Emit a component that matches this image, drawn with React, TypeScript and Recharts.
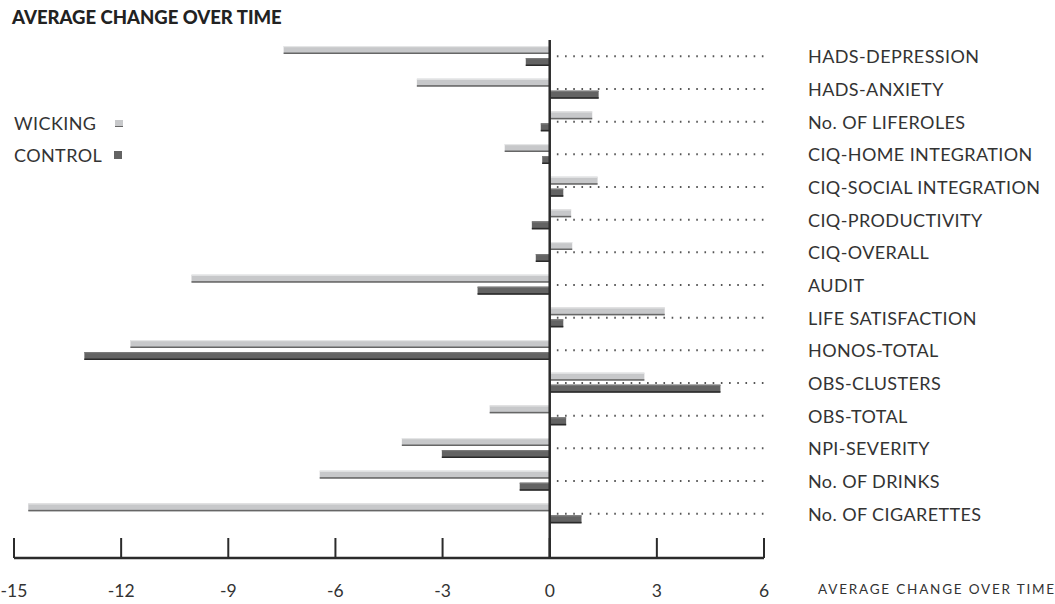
import React from "react";
import {
  BarChart,
  Bar,
  XAxis,
  YAxis,
  ReferenceLine,
  Legend,
} from "recharts";

const categories = [
  "HADS-DEPRESSION",
  "HADS-ANXIETY",
  "No. OF LIFEROLES",
  "CIQ-HOME INTEGRATION",
  "CIQ-SOCIAL INTEGRATION",
  "CIQ-PRODUCTIVITY",
  "CIQ-OVERALL",
  "AUDIT",
  "LIFE SATISFACTION",
  "HONOS-TOTAL",
  "OBS-CLUSTERS",
  "OBS-TOTAL",
  "NPI-SEVERITY",
  "No. OF DRINKS",
  "No. OF CIGARETTES",
];

const wicking = [-7.45, -3.72, 1.19, -1.26, 1.34, 0.6, 0.63, -10.03, 3.22, -11.74, 2.65, -1.68, -4.14, -6.44, -14.6];
const control = [-0.67, 1.37, -0.25, -0.21, 0.38, -0.5, -0.39, -2.02, 0.38, -13.03, 4.78, 0.46, -3.02, -0.84, 0.89];

const xTicks = [-15, -12, -9, -6, -3, 0, 3, 6];

const data = categories.map((name, i) => ({
  name,
  wicking: wicking[i],
  control: control[i],
}));

const FONT = "Lato, 'Open Sans', sans-serif";
const INK = "#2b2b2b";

// bar with a light top edge and a darker bottom edge, like the print original
const makeShape = (hi: string, edge: string) => (props: any) => {
  const { x = 0, y = 0, width = 0, height = 0, fill } = props;
  const x0 = Math.min(x, x + width);
  const w = Math.abs(width);
  if (!w) return <g />;
  return (
    <g>
      <rect x={x0} y={y} width={w} height={height} fill={fill} />
      <rect x={x0} y={y} width={w} height={1.2} fill={hi} />
      <rect x={x0} y={y + height - 1.5} width={w} height={1.5} fill={edge} />
    </g>
  );
};

const XTick = (props: any) => {
  const { x, y, payload } = props;
  return (
    <g>
      <line x1={x} x2={x} y1={y - 20} y2={y} stroke={INK} strokeWidth={2} />
      <text x={x} y={y + 39} textAnchor="middle" fill="#333" fontSize={17.5} fontFamily={FONT}>
        {payload.value}
      </text>
    </g>
  );
};

const YTick = (props: any) => {
  const { x, y, payload } = props;
  return (
    <text
      x={x + 44}
      y={y}
      dominantBaseline="central"
      fill="#333"
      fontSize={18}
      letterSpacing={0.4}
      fontFamily={FONT}
    >
      {payload.value}
    </text>
  );
};

const LegendBox = () => (
  <div style={{ fontFamily: FONT, fontSize: 18, letterSpacing: 0.4, color: "#333", lineHeight: "32px" }}>
    <div style={{ display: "flex", alignItems: "center" }}>
      <span style={{ width: 101 }}>WICKING</span>
      <span style={{ width: 8, height: 6, background: "#c7c8ca", borderBottom: "1.5px solid #666" }} />
    </div>
    <div style={{ display: "flex", alignItems: "center" }}>
      <span style={{ width: 100 }}>CONTROL</span>
      <span style={{ width: 8, height: 8, background: "#636363" }} />
    </div>
  </div>
);

export default function App() {
  return (
    <div style={{ position: "absolute", left: 0, top: 0, width: 1055, height: 604, background: "#fff" }}>
      <div
        style={{
          position: "absolute",
          left: 12,
          top: 6,
          fontFamily: FONT,
          fontWeight: 900,
          fontSize: 18.5,
          color: "#222",
        }}
      >
        AVERAGE CHANGE OVER TIME
      </div>
      <BarChart
        layout="vertical"
        width={1055}
        height={604}
        data={data}
        margin={{ top: 40, right: 51, bottom: 6, left: 14 }}
        barSize={8}
        barGap={4}
      >
        <XAxis
          type="number"
          domain={[-15, 6]}
          ticks={xTicks}
          allowDataOverflow
          height={40}
          tickSize={0}
          tickMargin={0}
          tickLine={false}
          axisLine={{ stroke: INK, strokeWidth: 2.5 }}
          tick={<XTick />}
          interval={0}
        />
        <YAxis
          type="category"
          dataKey="name"
          orientation="right"
          width={240}
          padding={{ top: 0, bottom: 28 }}
          axisLine={false}
          tickLine={false}
          tickSize={0}
          tickMargin={0}
          tick={<YTick />}
          interval={0}
        />
        <Legend
          layout="horizontal"
          verticalAlign="middle"
          align="center"
          content={<LegendBox />}
          wrapperStyle={{ position: "absolute", left: 14, top: 107, width: 140 }}
        />
        {categories.map((c) => (
          <ReferenceLine
            key={c}
            segment={[
              { x: 0.2, y: c },
              { x: 6, y: c },
            ]}
            stroke="#555"
            strokeWidth={2}
            strokeDasharray="1.6 6.6"
          />
        ))}
        <Bar
          dataKey="wicking"
          fill="#c7c8ca"
          isAnimationActive={false}
          shape={makeShape("#e4e5e6", "#666")}
        />
        <Bar
          dataKey="control"
          fill="#636363"
          isAnimationActive={false}
          shape={makeShape("#7a7a7a", "#2a2a2a")}
        />
        <ReferenceLine x={0} stroke={INK} strokeWidth={2.5} />
      </BarChart>
      <div
        style={{
          position: "absolute",
          left: 818,
          top: 581,
          fontFamily: FONT,
          fontSize: 13.5,
          letterSpacing: 1.8,
          color: "#333",
          whiteSpace: "nowrap",
        }}
      >
        AVERAGE CHANGE OVER TIME
      </div>
    </div>
  );
}
